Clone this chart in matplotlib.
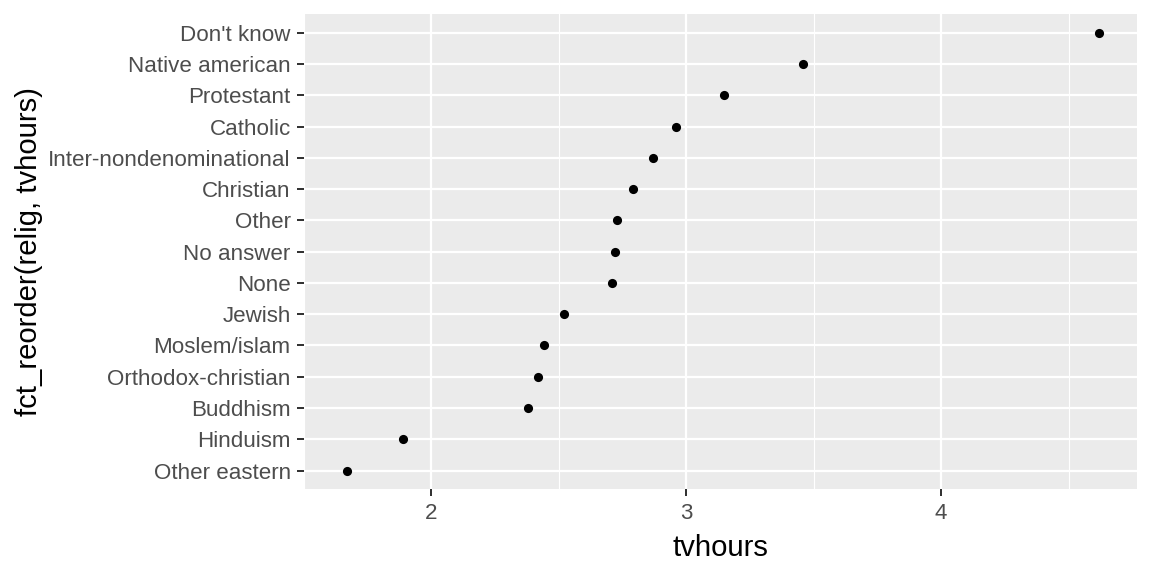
import matplotlib
matplotlib.use("Agg")
import matplotlib.pyplot as plt

# mean tv hours by religion (ordered low -> high)
relig = ["Other eastern", "Hinduism", "Buddhism", "Orthodox-christian", "Moslem/islam",
         "Jewish", "None", "No answer", "Other", "Christian",
         "Inter-nondenominational", "Catholic", "Protestant", "Native american", "Don't know"]
tvhours = [1.67, 1.89, 2.38, 2.42, 2.44,
           2.52, 2.71, 2.72, 2.73, 2.79,
           2.87, 2.96, 3.15, 3.46, 4.62]

plt.rcParams['font.family'] = ['Liberation Sans', 'DejaVu Sans']

fig = plt.figure(figsize=(8, 4), dpi=144)
ax = fig.add_axes([304/1152, 1 - 489.3/576, (1136.7 - 304)/1152, (489.3 - 14)/576])

ypos = list(range(1, len(relig) + 1))
ax.scatter(tvhours, ypos, s=21, color='black', zorder=3, linewidths=0)

# ggplot-like limits (5% / 0.6 expansion)
lo, hi = min(tvhours), max(tvhours)
pad = (hi - lo) * 0.05
ax.set_xlim(lo - pad, hi + pad)
ax.set_ylim(0.4, len(relig) + 0.6)

ax.set_facecolor('#EBEBEB')
for s in ax.spines.values():
    s.set_visible(False)

ax.set_xticks([2, 3, 4])
ax.set_xticks([1.5, 2.5, 3.5, 4.5], minor=True)
ax.set_yticks(ypos)
ax.set_yticklabels(relig)
ax.grid(True, which='major', color='white', linewidth=1.1)
ax.grid(True, which='minor', axis='x', color='white', linewidth=0.55)
ax.set_axisbelow(True)

ax.tick_params(axis='both', which='major', length=3.65, width=1.0, color='#333333',
               labelcolor='#4D4D4D', labelsize=11.2, pad=3)
ax.tick_params(axis='both', which='minor', length=0)

ax.set_xlabel('tvhours', fontsize=14.6, color='black', labelpad=5)
ax.set_ylabel('fct_reorder(relig, tvhours)', fontsize=14.6, color='black', labelpad=2.5)

fig.savefig('out.png', dpi=144, facecolor='white')
